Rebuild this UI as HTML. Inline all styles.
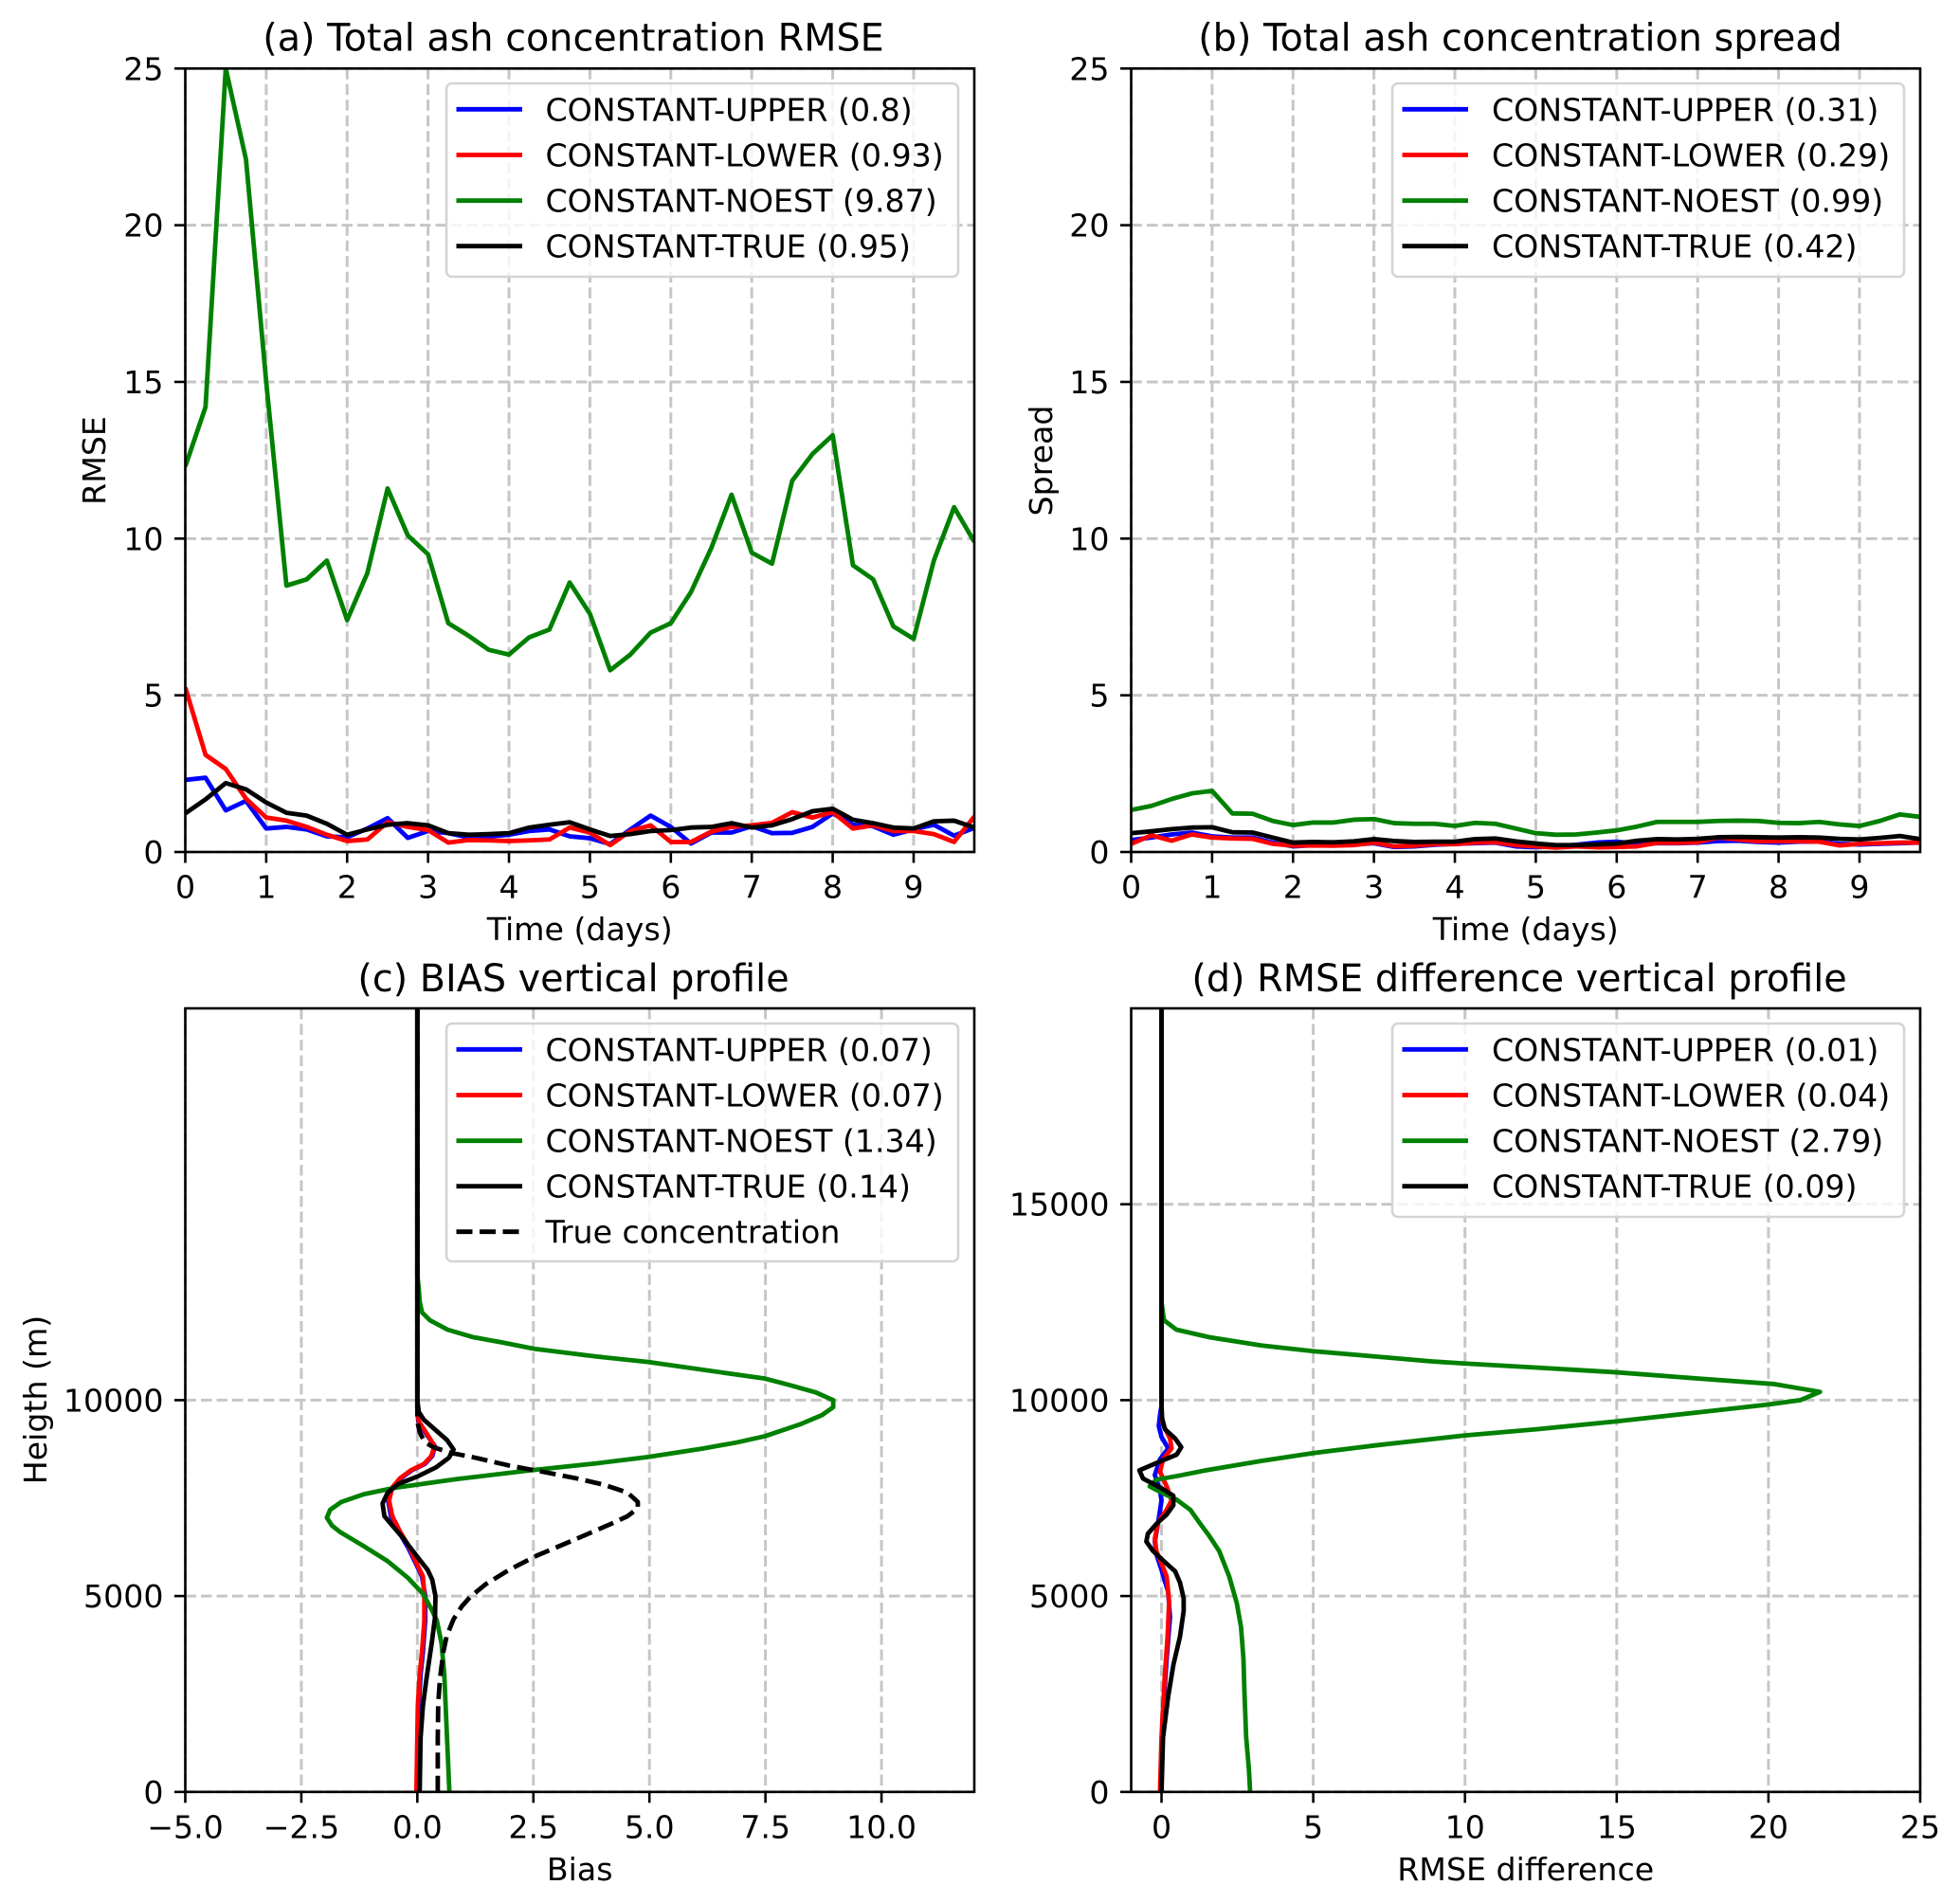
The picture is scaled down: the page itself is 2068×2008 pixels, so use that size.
<!DOCTYPE html>
<html lang="en">
<head>
<meta charset="utf-8">
<title>Volcanic ash assimilation diagnostics</title>
<style>
html,body{margin:0;padding:0;background:#fff;}
svg{display:block;}
text{font-family:"DejaVu Sans","Liberation Sans",sans-serif;fill:#000;}
.t{font-size:39.7px;text-anchor:middle;}
.l{font-size:33.2px;text-anchor:middle;}
.lg{font-size:33.2px;}
.box{fill:#fff;fill-opacity:.8;stroke:#d4d4d4;stroke-width:2.6;}
.k{stroke-width:4.8;fill:none;}
</style>
</head>
<body>
<svg id="figure" xmlns="http://www.w3.org/2000/svg" width="2068" height="2008" viewBox="0 0 2068 2008">
<defs>
<clipPath id="clip-a"><rect x="195.5" y="72.3" width="832.5" height="826.7"/></clipPath>
<clipPath id="clip-b"><rect x="1193.5" y="72.3" width="832.5" height="826.7"/></clipPath>
<clipPath id="clip-c"><rect x="195.5" y="1064" width="832.5" height="826.8"/></clipPath>
<clipPath id="clip-d"><rect x="1193.5" y="1064" width="832.5" height="826.8"/></clipPath>
</defs>

<g id="panel-a">
<text class="t" x="605" y="53.5">(a) Total ash concentration RMSE</text>
<text class="l" x="611.7" y="992">Time (days)</text>
<text class="l" transform="translate(111,486) rotate(-90)">RMSE</text>
<g id="a-grid"></g>
<g id="a-series" clip-path="url(#clip-a)"></g>
<g id="a-frame"></g>
<g>
<rect class="box" x="471" y="88" width="540" height="204" rx="6"/>
<line class="k" x1="481.5" x2="551" y1="115.3" y2="115.3" stroke="#0000ff"/>
<text class="lg" x="575.5" y="127.3">CONSTANT-UPPER (0.8)</text>
<line class="k" x1="481.5" x2="551" y1="163.5" y2="163.5" stroke="#ff0000"/>
<text class="lg" x="575.5" y="175.5">CONSTANT-LOWER (0.93)</text>
<line class="k" x1="481.5" x2="551" y1="211.7" y2="211.7" stroke="#008000"/>
<text class="lg" x="575.5" y="223.7">CONSTANT-NOEST (9.87)</text>
<line class="k" x1="481.5" x2="551" y1="259.7" y2="259.7" stroke="#000000"/>
<text class="lg" x="575.5" y="271.7">CONSTANT-TRUE (0.95)</text>
</g>
</g>

<g id="panel-b">
<text class="t" x="1604" y="53.5">(b) Total ash concentration spread</text>
<text class="l" x="1609.7" y="992">Time (days)</text>
<text class="l" transform="translate(1110,486) rotate(-90)">Spread</text>
<g id="b-grid"></g>
<g id="b-series" clip-path="url(#clip-b)"></g>
<g id="b-frame"></g>
<g>
<rect class="box" x="1469" y="88" width="540" height="204" rx="6"/>
<line class="k" x1="1479.5" x2="1549" y1="115.3" y2="115.3" stroke="#0000ff"/>
<text class="lg" x="1574" y="127.3">CONSTANT-UPPER (0.31)</text>
<line class="k" x1="1479.5" x2="1549" y1="163.5" y2="163.5" stroke="#ff0000"/>
<text class="lg" x="1574" y="175.5">CONSTANT-LOWER (0.29)</text>
<line class="k" x1="1479.5" x2="1549" y1="211.7" y2="211.7" stroke="#008000"/>
<text class="lg" x="1574" y="223.7">CONSTANT-NOEST (0.99)</text>
<line class="k" x1="1479.5" x2="1549" y1="259.7" y2="259.7" stroke="#000000"/>
<text class="lg" x="1574" y="271.7">CONSTANT-TRUE (0.42)</text>
</g>
</g>

<g id="panel-c">
<text class="t" x="605" y="1046">(c) BIAS vertical profile</text>
<text class="l" x="611.7" y="1984">Bias</text>
<text class="l" transform="translate(49,1477) rotate(-90)">Heigth (m)</text>
<g id="c-grid"></g>
<g id="c-series" clip-path="url(#clip-c)"></g>
<g id="c-frame"></g>
<g>
<rect class="box" x="471" y="1080" width="540" height="251" rx="6"/>
<line class="k" x1="481.5" x2="551" y1="1107.3" y2="1107.3" stroke="#0000ff"/>
<text class="lg" x="575.5" y="1119.3">CONSTANT-UPPER (0.07)</text>
<line class="k" x1="481.5" x2="551" y1="1155.5" y2="1155.5" stroke="#ff0000"/>
<text class="lg" x="575.5" y="1167.5">CONSTANT-LOWER (0.07)</text>
<line class="k" x1="481.5" x2="551" y1="1203.7" y2="1203.7" stroke="#008000"/>
<text class="lg" x="575.5" y="1215.7">CONSTANT-NOEST (1.34)</text>
<line class="k" x1="481.5" x2="551" y1="1251.7" y2="1251.7" stroke="#000000"/>
<text class="lg" x="575.5" y="1263.7">CONSTANT-TRUE (0.14)</text>
<line class="k" x1="481.5" x2="551" y1="1299.7" y2="1299.7" stroke="#000000" stroke-dasharray="17 7.5"/>
<text class="lg" x="575.5" y="1311.7">True concentration</text>
</g>
</g>

<g id="panel-d">
<text class="t" x="1603" y="1046">(d) RMSE difference vertical profile</text>
<text class="l" x="1609.7" y="1984">RMSE difference</text>
<g id="d-grid"></g>
<g id="d-series" clip-path="url(#clip-d)"></g>
<g id="d-frame"></g>
<g>
<rect class="box" x="1469" y="1080" width="540" height="204" rx="6"/>
<line class="k" x1="1479.5" x2="1549" y1="1107.3" y2="1107.3" stroke="#0000ff"/>
<text class="lg" x="1574" y="1119.3">CONSTANT-UPPER (0.01)</text>
<line class="k" x1="1479.5" x2="1549" y1="1155.5" y2="1155.5" stroke="#ff0000"/>
<text class="lg" x="1574" y="1167.5">CONSTANT-LOWER (0.04)</text>
<line class="k" x1="1479.5" x2="1549" y1="1203.7" y2="1203.7" stroke="#008000"/>
<text class="lg" x="1574" y="1215.7">CONSTANT-NOEST (2.79)</text>
<line class="k" x1="1479.5" x2="1549" y1="1251.7" y2="1251.7" stroke="#000000"/>
<text class="lg" x="1574" y="1263.7">CONSTANT-TRUE (0.09)</text>
</g>
</g>
</svg>

<script>
/* ---------- shared categories and tick labels ---------- */
var timeDays = [0,0.25,0.5,0.75,1,1.25,1.5,1.75,2,2.25,2.5,2.75,3,3.25,3.5,3.75,4,4.25,4.5,4.75,5,5.25,5.5,5.75,6,6.25,6.5,6.75,7,7.25,7.5,7.75,8,8.25,8.5,8.75,9,9.25,9.5,9.75];
var timeTicks = [0,1,2,3,4,5,6,7,8,9];
var metricTicks = [0,5,10,15,20,25];
var biasHeightTicks = [0,5000,10000];
var diffHeightTicks = [0,5000,10000,15000];
var biasTicks = [-5,-2.5,0,2.5,5,7.5,10];
var biasTickLabels = ['\u22125.0','\u22122.5','0.0','2.5','5.0','7.5','10.0'];
var diffTicks = [0,5,10,15,20,25];

/* ---------- panel (a) RMSE time series ---------- */
var rmseUpper = [2.3,2.37,1.33,1.63,0.75,0.8,0.72,0.5,0.47,0.75,1.08,0.45,0.67,0.6,0.47,0.5,0.55,0.67,0.72,0.5,0.44,0.25,0.72,1.16,0.8,0.27,0.62,0.62,0.82,0.6,0.61,0.8,1.23,0.87,0.82,0.55,0.72,0.87,0.52,0.77];
var rmseLower = [5.25,3.1,2.65,1.7,1.1,1.0,0.8,0.55,0.35,0.4,0.95,0.8,0.7,0.3,0.38,0.37,0.35,0.37,0.4,0.78,0.62,0.22,0.67,0.85,0.32,0.32,0.65,0.8,0.85,0.93,1.27,1.1,1.27,0.75,0.85,0.67,0.67,0.57,0.32,1.13];
var rmseNoest = [12.3,14.2,25,22.1,15,8.5,8.7,9.3,7.4,8.9,11.6,10.1,9.5,7.3,6.9,6.45,6.3,6.85,7.1,8.6,7.6,5.8,6.3,7.0,7.3,8.3,9.7,11.4,9.55,9.2,11.85,12.7,13.3,9.15,8.7,7.2,6.8,9.3,11,9.9];
var rmseTrue = [1.23,1.68,2.2,2.0,1.58,1.25,1.16,0.9,0.55,0.72,0.87,0.92,0.85,0.6,0.55,0.57,0.6,0.78,0.87,0.95,0.72,0.51,0.57,0.67,0.7,0.78,0.8,0.92,0.78,0.85,1.05,1.3,1.38,1.03,0.92,0.78,0.75,0.98,1.0,0.78];

/* ---------- panel (b) spread time series ---------- */
var spreadUpper = [0.38,0.46,0.56,0.62,0.5,0.46,0.46,0.3,0.18,0.22,0.22,0.24,0.28,0.16,0.18,0.23,0.26,0.28,0.3,0.18,0.15,0.18,0.23,0.3,0.33,0.26,0.28,0.28,0.3,0.35,0.36,0.32,0.3,0.33,0.33,0.26,0.24,0.26,0.28,0.3];
var spreadLower = [0.26,0.53,0.36,0.56,0.46,0.43,0.42,0.26,0.2,0.21,0.2,0.22,0.3,0.18,0.2,0.25,0.25,0.3,0.31,0.22,0.18,0.14,0.18,0.15,0.16,0.18,0.29,0.29,0.31,0.46,0.4,0.34,0.34,0.34,0.33,0.21,0.26,0.28,0.3,0.3];
var spreadNoest = [1.34,1.47,1.69,1.87,1.95,1.23,1.22,0.99,0.86,0.94,0.94,1.03,1.05,0.92,0.9,0.9,0.83,0.93,0.9,0.75,0.6,0.55,0.56,0.62,0.69,0.81,0.96,0.96,0.96,0.99,1.0,0.99,0.93,0.92,0.96,0.88,0.83,0.99,1.2,1.12];
var spreadTrue = [0.6,0.66,0.73,0.78,0.79,0.63,0.62,0.46,0.3,0.32,0.31,0.34,0.41,0.35,0.32,0.33,0.33,0.41,0.43,0.34,0.27,0.22,0.22,0.24,0.27,0.36,0.41,0.4,0.42,0.47,0.48,0.47,0.46,0.47,0.46,0.42,0.4,0.45,0.51,0.41];

/* ---------- panel (c) bias vertical profiles ---------- */
var biasUpperHeight = [0,2200,3000,3570,4375,5000,5500,5870,6240,6640,7040,7440,7770,8010,8210,8370,8570,8820,9020,9260,9460,9800,20000];
var biasUpperValue = [0,0.03,0.07,0.12,0.17,0.17,0.1,-0.05,-0.2,-0.4,-0.57,-0.63,-0.54,-0.35,-0.12,0.16,0.32,0.38,0.26,0.12,0.02,0,0];
var biasLowerHeight = [0,2200,3000,3570,4375,5000,5500,5870,6240,6640,7040,7440,7770,8010,8210,8370,8570,8820,9020,9260,9460,9800,20000];
var biasLowerValue = [-0.02,0.01,0.05,0.1,0.15,0.15,0.12,-0.03,-0.17,-0.37,-0.54,-0.61,-0.54,-0.37,-0.14,0.14,0.3,0.37,0.27,0.14,0.03,0,0];
var biasNoestHeight = [0,3000,3800,4375,4650,5060,5460,5890,6270,6630,6800,7000,7200,7400,7600,7760,7980,8210,8390,8550,8760,8920,9080,9380,9620,9820,10000,10200,10400,10550,10700,10975,11110,11310,11470,11610,11800,12040,12240,12520,12850,13200,20000];
var biasNoestValue = [0.69,0.58,0.52,0.42,0.31,0.12,-0.2,-0.64,-1.15,-1.66,-1.84,-1.95,-1.88,-1.64,-1.15,-0.5,0.82,2.45,3.88,4.97,6.13,6.88,7.49,8.24,8.72,8.96,8.96,8.58,7.97,7.49,6.6,4.97,3.88,2.52,1.84,1.19,0.65,0.27,0.1,0.05,0.03,0,0];
var biasTrueHeight = [0,1390,2200,2920,3800,4450,5000,5420,5670,5910,6310,6470,6800,7040,7360,7640,7860,8050,8290,8530,8740,8980,9220,9500,9700,10000,20000];
var biasTrueValue = [0.05,0.07,0.12,0.2,0.31,0.38,0.39,0.32,0.22,0.06,-0.2,-0.3,-0.54,-0.71,-0.75,-0.64,-0.41,0,0.41,0.68,0.78,0.64,0.41,0.14,0.03,0,0];
var concentrationHeight = [0,1390,2280,2920,3570,3970,4410,4740,4980,5300,5670,6030,6430,6840,7040,7240,7400,7640,7840,8000,8170,8330,8530,8650,8800,8930,9180,9460,20000];
var concentrationValue = [0.44,0.44,0.45,0.49,0.56,0.63,0.78,0.96,1.14,1.47,1.98,2.57,3.37,4.17,4.53,4.75,4.75,4.53,4.02,3.44,2.71,1.98,1.25,0.74,0.34,0.16,0.05,0,0];

/* ---------- panel (d) RMSE difference vertical profiles ---------- */
var diffUpperHeight = [0,1790,3400,4460,5100,5670,6070,6390,6880,7440,7700,8090,8490,8770,9060,9340,9620,9860,20000];
var diffUpperValue = [-0.02,0.03,0.17,0.28,0.22,0,-0.17,-0.22,-0.11,0,-0.05,-0.22,-0.05,0.22,0,-0.09,-0.05,0,0];
var diffLowerHeight = [0,1390,3000,3970,4860,5500,5830,6150,6470,6880,7200,7440,7800,8170,8490,8770,9020,9380,9620,20000];
var diffLowerValue = [-0.05,0,0.11,0.2,0.25,0.17,0,-0.17,-0.22,-0.11,0.17,0.33,0.17,-0.05,0.05,0.33,0.28,0.05,0,0];
var diffNoestHeight = [0,580,1390,2600,3400,4210,4820,5500,6150,6550,6840,7200,7460,7640,7800,7970,8070,8210,8450,8650,8850,9100,9260,9460,9690,9890,10000,10210,10410,10550,10710,10830,10935,10990,11110,11250,11395,11610,11800,12040,12500,20000];
var diffNoestValue = [2.92,2.88,2.79,2.73,2.7,2.62,2.48,2.23,1.9,1.56,1.28,0.95,0.5,0,-0.39,-0.17,0.56,1.47,3.3,5,7.1,10,12.4,15,17.7,20,21.05,21.7,20.2,17.7,15,12.4,10,8.9,7.1,5,3.3,1.55,0.49,0.08,0,0];
var diffTrueHeight = [0,1390,2440,3240,3970,4620,4940,5340,5630,5910,6150,6390,6590,6840,7080,7320,7560,7750,8000,8210,8450,8610,8800,9020,9260,9540,9860,20000];
var diffTrueValue = [0,0.05,0.22,0.39,0.61,0.73,0.73,0.61,0.45,0.05,-0.28,-0.5,-0.45,-0.17,0.17,0.39,0.39,0,-0.61,-0.73,0,0.5,0.65,0.45,0.11,0.02,0,0];

/* ---------- drawing ---------- */
var NS = 'http://www.w3.org/2000/svg';
var BLUE = '#0000ff', RED = '#ff0000', GREEN = '#008000', BLACK = '#000000';

function linear(d0, d1, r0, r1) {
  return function (v) { return r0 + (v - d0) * (r1 - r0) / (d1 - d0); };
}
function make(parent, tag) {
  var el = document.createElementNS(NS, tag);
  parent.appendChild(el);
  return el;
}
function drawSeries(parent, xs, ys, sx, sy, color, name, dash) {
  var pts = [];
  for (var i = 0; i < xs.length; i++) {
    pts.push(sx(xs[i]).toFixed(2) + ',' + sy(ys[i]).toFixed(2));
  }
  var el = make(parent, 'polyline');
  
  
  el.setAttribute('points', pts.join(' '));
  el.setAttribute('fill', 'none');
  el.setAttribute('stroke', color);
  el.setAttribute('stroke-width', '4.8');
  el.setAttribute('stroke-linejoin', 'round');
  if (dash) { el.setAttribute('stroke-dasharray', dash); }
}
function setLine(el, x1, y1, x2, y2, color, w, dash) {
  el.setAttribute('x1', x1);
  el.setAttribute('y1', y1);
  el.setAttribute('x2', x2);
  el.setAttribute('y2', y2);
  el.setAttribute('stroke', color);
  el.setAttribute('stroke-width', w);
  if (dash) { el.setAttribute('stroke-dasharray', dash); }
}
function drawAxes(id, box, sx, sy, xTicks, yTicks, xLabels, yLabels) {
  var grid = document.getElementById(id + '-grid');
  var frame = document.getElementById(id + '-frame');
  var left = box.x0, right = box.x1, top = box.y0, bottom = box.y1;
  xTicks.forEach(function (t, i) {
    var x = sx(t);
    var g = make(grid, 'line');
    
    
    setLine(g, x, top, x, bottom, '#c6c6c6', 3, '11.5 5');
    var k = make(frame, 'line');
    
    
    setLine(k, x, bottom, x, bottom + 11.5, '#000', 2.6);
    var s = make(frame, 'text');
    
    
    s.setAttribute('x', x);
    s.setAttribute('y', bottom + 48.5);
    s.setAttribute('text-anchor', 'middle');
    s.setAttribute('font-size', '33.2');
    s.textContent = xLabels[i];
  });
  yTicks.forEach(function (t, i) {
    var y = sy(t);
    var g = make(grid, 'line');
    
    
    setLine(g, left, y, right, y, '#c6c6c6', 3, '11.5 5');
    var k = make(frame, 'line');
    
    
    setLine(k, left - 11.5, y, left, y, '#000', 2.6);
    var s = make(frame, 'text');
    
    
    s.setAttribute('x', left - 23);
    s.setAttribute('y', y + 12);
    s.setAttribute('text-anchor', 'end');
    s.setAttribute('font-size', '33.2');
    s.textContent = yLabels[i];
  });
  var r = make(frame, 'rect');
  
  
  r.setAttribute('x', left);
  r.setAttribute('y', top);
  r.setAttribute('width', right - left);
  r.setAttribute('height', bottom - top);
  r.setAttribute('fill', 'none');
  r.setAttribute('stroke', '#000');
  r.setAttribute('stroke-width', '2.6');
}

/* panel a */
(function () {
  var box = {x0: 195.5, x1: 1028, y0: 72.3, y1: 899};
  var sx = linear(0, 9.75, box.x0, box.x1), sy = linear(0, 25, box.y1, box.y0);
  drawAxes('a', box, sx, sy, timeTicks, metricTicks, timeTicks, metricTicks);
  var g = document.getElementById('a-series');
  drawSeries(g, timeDays, rmseUpper, sx, sy, BLUE, 'line-constant-upper');
  drawSeries(g, timeDays, rmseLower, sx, sy, RED, 'line-constant-lower');
  drawSeries(g, timeDays, rmseNoest, sx, sy, GREEN, 'line-constant-noest');
  drawSeries(g, timeDays, rmseTrue, sx, sy, BLACK, 'line-constant-true');
})();

/* panel b */
(function () {
  var box = {x0: 1193.5, x1: 2026, y0: 72.3, y1: 899};
  var sx = linear(0, 9.75, box.x0, box.x1), sy = linear(0, 25, box.y1, box.y0);
  drawAxes('b', box, sx, sy, timeTicks, metricTicks, timeTicks, metricTicks);
  var g = document.getElementById('b-series');
  drawSeries(g, timeDays, spreadUpper, sx, sy, BLUE, 'line-constant-upper');
  drawSeries(g, timeDays, spreadLower, sx, sy, RED, 'line-constant-lower');
  drawSeries(g, timeDays, spreadNoest, sx, sy, GREEN, 'line-constant-noest');
  drawSeries(g, timeDays, spreadTrue, sx, sy, BLACK, 'line-constant-true');
})();

/* panel c */
(function () {
  var box = {x0: 195.5, x1: 1028, y0: 1064, y1: 1890.8};
  var sx = linear(-5, 12, box.x0, box.x1), sy = linear(0, 20000, box.y1, box.y0);
  drawAxes('c', box, sx, sy, biasTicks, biasHeightTicks, biasTickLabels, biasHeightTicks);
  var g = document.getElementById('c-series');
  drawSeries(g, biasUpperValue, biasUpperHeight, sx, sy, BLUE, 'line-constant-upper');
  drawSeries(g, biasLowerValue, biasLowerHeight, sx, sy, RED, 'line-constant-lower');
  drawSeries(g, biasNoestValue, biasNoestHeight, sx, sy, GREEN, 'line-constant-noest');
  drawSeries(g, biasTrueValue, biasTrueHeight, sx, sy, BLACK, 'line-constant-true');
  drawSeries(g, concentrationValue, concentrationHeight, sx, sy, BLACK, 'line-true-concentration', '17 7.5');
})();

/* panel d */
(function () {
  var box = {x0: 1193.5, x1: 2026, y0: 1064, y1: 1890.8};
  var sx = linear(-1, 25, box.x0, box.x1), sy = linear(0, 20000, box.y1, box.y0);
  drawAxes('d', box, sx, sy, diffTicks, diffHeightTicks, diffTicks, diffHeightTicks);
  var g = document.getElementById('d-series');
  drawSeries(g, diffUpperValue, diffUpperHeight, sx, sy, BLUE, 'line-constant-upper');
  drawSeries(g, diffLowerValue, diffLowerHeight, sx, sy, RED, 'line-constant-lower');
  drawSeries(g, diffNoestValue, diffNoestHeight, sx, sy, GREEN, 'line-constant-noest');
  drawSeries(g, diffTrueValue, diffTrueHeight, sx, sy, BLACK, 'line-constant-true');
})();
</script>
</body>
</html>
